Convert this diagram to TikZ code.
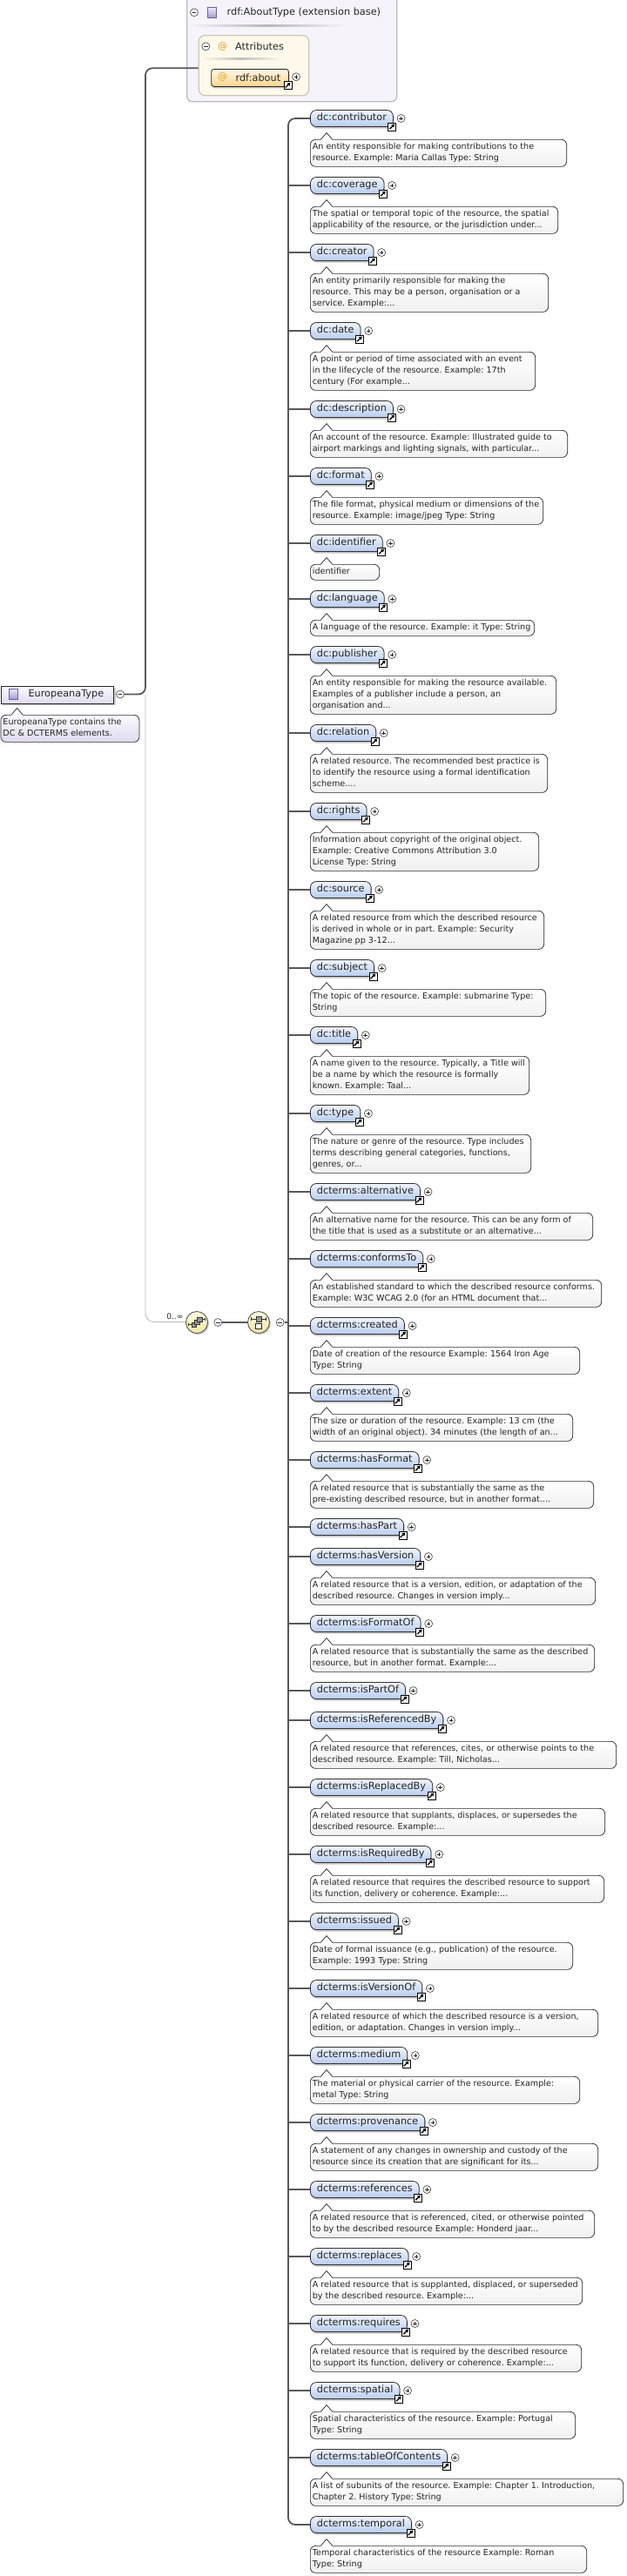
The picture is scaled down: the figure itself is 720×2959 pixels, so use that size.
\documentclass[tikz,border=0pt]{standalone}
\usepackage{fontspec}
\setmainfont{DejaVu Sans}
\usetikzlibrary{shadows,arrows.meta,calc}

\definecolor{elTop}{RGB}{240,245,253}
\definecolor{elBot}{RGB}{184,204,238}
\definecolor{dBot}{RGB}{240,240,240}
\definecolor{lineC}{RGB}{88,88,88}
\definecolor{txt}{RGB}{38,38,38}
\definecolor{aboutBg}{RGB}{246,244,250}
\definecolor{aboutBd}{RGB}{188,186,196}
\definecolor{attBg}{RGB}{255,249,236}
\definecolor{attBd}{RGB}{208,198,180}
\definecolor{orTop}{RGB}{255,247,228}
\definecolor{orBot}{RGB}{255,212,140}
\definecolor{atC}{RGB}{230,158,48}
\definecolor{purTop}{RGB}{236,232,248}
\definecolor{purBot}{RGB}{165,150,208}
\definecolor{purBd}{RGB}{110,96,160}
\definecolor{euTop}{RGB}{251,250,254}
\definecolor{euBot}{RGB}{222,218,238}
\definecolor{ylTop}{RGB}{255,252,224}
\definecolor{ylBot}{RGB}{240,228,162}

\newcommand{\ptr}[2][white]{%
  \fill[#1] ([xshift=12.5pt,yshift=-0.8pt]#2.north west) -- ([xshift=19pt,yshift=7.5pt]#2.north west) -- ([xshift=25.5pt,yshift=-0.8pt]#2.north west) -- cycle;
  \draw[ptrline] ([xshift=12.5pt]#2.north west) -- ([xshift=19pt,yshift=7.5pt]#2.north west) -- ([xshift=25.5pt]#2.north west);
}
\newcommand{\elbox}[3]{%
  \coordinate (j#1) at (331,#2);
  \node[elem] (#1) at (356,#2) {#3};
  \node[plusc] (#1p) at ([xshift=8.7pt]#1.east) {};
  \node[shortc] (#1s) at ([xshift=-1.6pt,yshift=0.5pt]#1.south east) {};
}
\newcommand{\dlines}[2]{\makebox[#1][l]{\begin{tabular}{@{}l@{}}#2\end{tabular}}}
% id, y, name, right edge, description
\newcommand{\elrow}[5]{%
  \elbox{#1}{#2}{#3}%
  \pgfmathsetmacro{\tw}{#4-361.7}%
  \node[desc] (#1d) at (356,#2+24) {\dlines{\tw pt}{#5}};
  \ptr{#1d}%
}

\begin{document}
\begin{tikzpicture}[x=1pt,y=-1pt,
  conn/.style={draw=lineC, line width=1.8pt},
  thinl/.style={draw=black!28, line width=0.8pt},
  ptrline/.style={draw=black!85, line width=0.7pt, line join=miter},
  elem/.style={draw=black!80, line width=0.8pt, rounded corners=7pt, top color=elTop, bottom color=elBot,
    anchor=west, minimum height=19pt, inner xsep=7.5pt, inner ysep=0pt, text height=8.2pt, text depth=2.5pt,
    font=\fontsize{11.3}{13}\selectfont, text=txt,
    drop shadow={shadow xshift=1pt, shadow yshift=-2.2pt, fill=black!50, opacity=0.45}},
  desc/.style={draw=black!85, line width=0.7pt, rounded corners=6pt, top color=white, bottom color=dBot,
    anchor=north west, inner xsep=2.5pt, inner ysep=2.5pt,
    font=\fontsize{9.6}{13}\selectfont\frenchspacing, text=txt},
  plusc/.style={circle, draw=black!75, fill=white, line width=0.6pt, minimum size=9pt, inner sep=0pt,
    path picture={\draw[black!85, line width=0.6pt]
      ([xshift=-2.3pt]path picture bounding box.center) -- ([xshift=2.3pt]path picture bounding box.center)
      ([yshift=-2.3pt]path picture bounding box.center) -- ([yshift=2.3pt]path picture bounding box.center);}},
  minusc/.style={circle, draw=black!75, fill=white, line width=0.6pt, minimum size=9pt, inner sep=0pt,
    path picture={\draw[black!85, line width=0.6pt]
      ([xshift=-2.3pt]path picture bounding box.center) -- ([xshift=2.3pt]path picture bounding box.center);}},
  shortc/.style={rectangle, draw=black, fill=white, line width=0.6pt, minimum size=9pt, inner sep=0pt,
    path picture={\draw[black, line width=1.3pt, -{Triangle[length=3.4pt,width=4pt]}]
      ([xshift=-2.8pt,yshift=-2.8pt]path picture bounding box.center) -- ([xshift=2.9pt,yshift=2.9pt]path picture bounding box.center);}},
  comp/.style={circle, draw=black!65, line width=0.9pt, minimum size=25pt, inner sep=0pt,
    top color=ylTop, bottom color=ylBot,
    drop shadow={shadow xshift=1.5pt, shadow yshift=-1.5pt, fill=black!45, opacity=0.45}},
  hdr/.style={inner sep=0pt, font=\fontsize{11.3}{13}\selectfont, text=txt},
  atsign/.style={inner sep=0pt, font=\fontsize{11}{13}\selectfont, text=atC},
  puricon/.style={rectangle, minimum width=10pt, minimum height=12pt, inner sep=0pt, draw=purBd,
    line width=0.6pt, top color=purTop, bottom color=purBot},
  gsq/.style={draw=black!80, fill=black!40, line width=0.5pt},
  wsq/.style={draw=black!85, fill=white, line width=0.7pt}
]
\useasboundingbox (0,0) rectangle (720,2959);
\fill[white] (0,0) rectangle (720,2959);

% ---- rdf:AboutType group ----
\node[draw=aboutBd, fill=aboutBg, line width=1.3pt, rounded corners=6pt, anchor=north west,
  minimum width=241pt, minimum height=126pt, inner sep=0pt] (grp) at (214,-10) {};
\node[minusc] (grpm) at (223,14.3) {};
\node[puricon] (grpi) at (243.5,14.5) {};
\node[hdr, anchor=west] (grpt) at (260.5,14.3) {rdf:AboutType (extension base)};
\shade[left color=aboutBg, right color=aboutBg, middle color=black!28] (216,28.3) rectangle (398,30.3);

\node[draw=attBd, fill=attBg, line width=1.3pt, rounded corners=7pt, anchor=north west,
  minimum width=126.5pt, minimum height=69pt, inner sep=0pt] (att) at (227.5,40) {};
\node[minusc] (attm) at (236.3,53.3) {};
\node[atsign] (atta) at (255.7,53.3) {@};
\node[hdr, anchor=west] (attt) at (270,53.3) {Attributes};
\shade[left color=attBg, right color=attBg, middle color=black!25] (230.7,66) rectangle (323,68);

\node[draw=black!85, line width=0.8pt, rounded corners=3pt, top color=orTop, bottom color=orBot,
  anchor=north west, minimum width=88.7pt, minimum height=20pt, inner sep=0pt,
  drop shadow={shadow xshift=1pt, shadow yshift=-2pt, fill=black!50, opacity=0.45}] (about) at (242.3,79) {};
\node[atsign] (abouta) at (255.7,88.8) {@};
\node[hdr, anchor=west] (aboutt) at (270.4,88.8) {rdf:about};
\node[plusc] (aboutp) at (340,88.3) {};
\node[shortc] (abouts) at (330.5,97.8) {};

% ---- EuropeanaType ----
\node[draw=black!85, line width=0.9pt, top color=euTop, bottom color=euBot, anchor=north west,
  minimum width=129.5pt, minimum height=20pt, inner sep=0pt,
  drop shadow={shadow xshift=2pt, shadow yshift=-2pt, fill=black!50, opacity=0.4}] (eu) at (0.6,788) {};
\node[puricon] (euicon) at (15,797.5) {};
\node[hdr, anchor=west] (eut) at (32.3,797.8) {EuropeanaType};
\node[minusc] (eum) at (138,797.5) {};
\node[desc, top color=euTop, bottom color=euBot] (eud) at (0.6,821)
  {\dlines{154pt}{EuropeanaType contains the\\DC \& DCTERMS elements.}};
\ptr[euTop]{eud}

\coordinate (k1) at (167,797.5);
\coordinate (k2) at (167,78.3);
\coordinate (k3) at (167,1518.5);
\coordinate (attin) at (227.5,78.3);
\draw[thinl, rounded corners=10pt] (k1) -- (k3) -- (213,1518.5);
\draw[conn, rounded corners=8pt] (eum.east) -- (k1) -- (k2) -- (attin);

% ---- compositors ----
\node[comp] (comp1) at (226,1519) {};
\node[inner sep=0pt, font=\fontsize{9}{10}\selectfont, text=txt, anchor=east] (mult) at (210.5,1512) {0..∞};
\node[minusc] (comp1m) at (250.3,1519) {};
\node[comp] (comp2) at (297,1519) {};
\node[minusc] (comp2m) at (321.7,1519) {};
\coordinate (jseq) at (331,1519);
\draw[conn] (comp1m.east) -- (comp2.west);
\draw[conn] (comp2m.east) -- (jseq);
\begin{scope}[shift={(comp1.center)}]
  \draw[black!80, line width=0.6pt] (-9.5,2.5) -- (-6,2.5) (-9.5,0.8) -- (-9.5,4.2)
     (6,-3.5) -- (9.5,-3.5) (9.5,-5.2) -- (9.5,-1.8);
  \draw[gsq] (-6,0) rectangle (-0.5,5.5);
  \draw[gsq] (-2.7,-3) rectangle (2.8,2.5);
  \draw[gsq] (0.6,-6.2) rectangle (6.1,-0.7);
\end{scope}
\begin{scope}[shift={(comp2.center)}]
  \draw[black!80, line width=0.6pt] (-8.5,-4) -- (8.5,-4) (-8.5,-5.7) -- (-8.5,-2.3) (8.5,-5.7) -- (8.5,-2.3);
  \draw[gsq] (-3,-7) rectangle (3,-1);
  \draw[wsq] (-3.2,1) rectangle (3.2,7.4);
\end{scope}

% ---- children ----
\elrow{e1}{136}{dc:contributor}{651}{An entity responsible for making contributions to the\\resource. Example: Maria Callas Type: String}
\elrow{e2}{213}{dc:coverage}{641}{The spatial or temporal topic of the resource, the spatial\\applicability of the resource, or the jurisdiction under...}
\elrow{e3}{290}{dc:creator}{630}{An entity primarily responsible for making the\\resource. This may be a person, organisation or a\\service. Example:...}
\elrow{e4}{380}{dc:date}{615}{A point or period of time associated with an event\\in the lifecycle of the resource. Example: 17th\\century (For example...}
\elrow{e5}{470}{dc:description}{652}{An account of the resource. Example: Illustrated guide to\\airport markings and lighting signals, with particular...}
\elrow{e6}{547}{dc:format}{624}{The file format, physical medium or dimensions of the\\resource. Example: image/jpeg Type: String}
\elrow{e7}{624}{dc:identifier}{436}{identifier}
\elrow{e8}{688}{dc:language}{614}{A language of the resource. Example: it Type: String}
\elrow{e9}{752}{dc:publisher}{639}{An entity responsible for making the resource available.\\Examples of a publisher include a person, an\\organisation and...}
\elrow{e10}{842}{dc:relation}{629}{A related resource. The recommended best practice is\\to identify the resource using a formal identification\\scheme....}
\elrow{e11}{932}{dc:rights}{619}{Information about copyright of the original object.\\Example: Creative Commons Attribution 3.0\\License Type: String}
\elrow{e12}{1022}{dc:source}{625}{A related resource from which the described resource\\is derived in whole or in part. Example: Security\\Magazine pp 3-12...}
\elrow{e13}{1112}{dc:subject}{627}{The topic of the resource. Example: submarine Type:\\String}
\elrow{e14}{1189}{dc:title}{608}{A name given to the resource. Typically, a Title will\\be a name by which the resource is formally\\known. Example: Taal...}
\elrow{e15}{1279}{dc:type}{610}{The nature or genre of the resource. Type includes\\terms describing general categories, functions,\\genres, or...}
\elrow{e16}{1369}{dcterms:alternative}{681}{An alternative name for the resource. This can be any form of\\the title that is used as a substitute or an alternative...}
\elrow{e17}{1446}{dcterms:conformsTo}{691}{An established standard to which the described resource conforms.\\Example: W3C WCAG 2.0 (for an HTML document that...}
\elrow{e18}{1523}{dcterms:created}{666}{Date of creation of the resource Example: 1564 Iron Age\\Type: String}
\elrow{e19}{1600}{dcterms:extent}{658}{The size or duration of the resource. Example: 13 cm (the\\width of an original object). 34 minutes (the length of an...}
\elrow{e20}{1677}{dcterms:hasFormat}{682}{A related resource that is substantially the same as the\\pre-existing described resource, but in another format....}
\elbox{e21}{1754}{dcterms:hasPart}
\elrow{e22}{1788}{dcterms:hasVersion}{684}{A related resource that is a version, edition, or adaptation of the\\described resource. Changes in version imply...}
\elrow{e23}{1865}{dcterms:isFormatOf}{683}{A related resource that is substantially the same as the described\\resource, but in another format. Example:...}
\elbox{e24}{1942}{dcterms:isPartOf}
\elrow{e25}{1976}{dcterms:isReferencedBy}{708}{A related resource that references, cites, or otherwise points to the\\described resource. Example: Till, Nicholas...}
\elrow{e26}{2053}{dcterms:isReplacedBy}{695}{A related resource that supplants, displaces, or supersedes the\\described resource. Example:...}
\elrow{e27}{2130}{dcterms:isRequiredBy}{694}{A related resource that requires the described resource to support\\its function, delivery or coherence. Example:...}
\elrow{e28}{2207}{dcterms:issued}{658}{Date of formal issuance (e.g., publication) of the resource.\\Example: 1993 Type: String}
\elrow{e29}{2284}{dcterms:isVersionOf}{687}{A related resource of which the described resource is a version,\\edition, or adaptation. Changes in version imply...}
\elrow{e30}{2361}{dcterms:medium}{666}{The material or physical carrier of the resource. Example:\\metal Type: String}
\elrow{e31}{2438}{dcterms:provenance}{687}{A statement of any changes in ownership and custody of the\\resource since its creation that are significant for its...}
\elrow{e32}{2515}{dcterms:references}{683}{A related resource that is referenced, cited, or otherwise pointed\\to by the described resource Example: Honderd jaar...}
\elrow{e33}{2592}{dcterms:replaces}{669}{A related resource that is supplanted, displaced, or superseded\\by the described resource. Example:...}
\elrow{e34}{2669}{dcterms:requires}{668}{A related resource that is required by the described resource\\to support its function, delivery or coherence. Example:...}
\elrow{e35}{2746}{dcterms:spatial}{661}{Spatial characteristics of the resource. Example: Portugal\\Type: String}
\elrow{e36}{2823}{dcterms:tableOfContents}{716}{A list of subunits of the resource. Example: Chapter 1. Introduction,\\Chapter 2. History Type: String}
\elrow{e37}{2900}{dcterms:temporal}{674}{Temporal characteristics of the resource Example: Roman\\Type: String}

% ---- trunk and branches ----
\draw[conn, rounded corners=8pt] (e1.west) -- (je1) -- (je37) -- (e37.west);
\foreach \i in {2,...,36} {\draw[conn] (je\i) -- (e\i.west);}
\end{tikzpicture}
\end{document}
